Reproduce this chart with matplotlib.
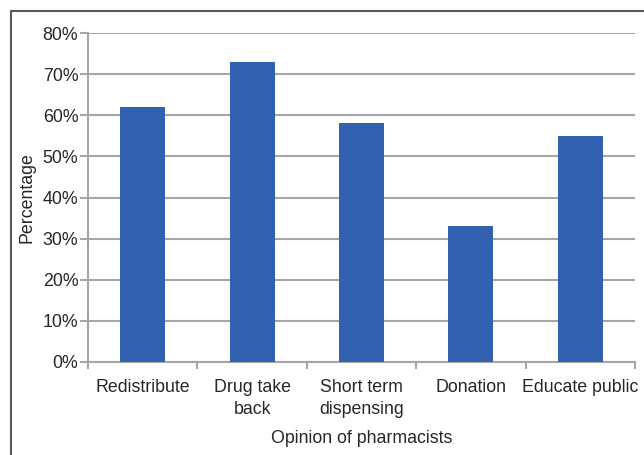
import matplotlib
matplotlib.use("Agg")
import matplotlib.pyplot as plt
from matplotlib.patches import Rectangle
import numpy as np

plt.rcParams["font.family"] = ["Liberation Sans", "DejaVu Sans"]

categories = ["Redistribute", "Drug take\nback", "Short term\ndispensing", "Donation", "Educate public"]
percent = [62, 73, 58, 33, 55]
y_ticks = [0, 10, 20, 30, 40, 50, 60, 70, 80]

BAR_C = "#3262AF"
GRID_C = "#A6A6A6"
TEXT_C = "#262626"
FS = 12.8

fig = plt.figure(figsize=(6.44, 4.55), dpi=100)
fig.patch.set_facecolor("white")

# outer chart frame (cropped on right and bottom in the reference)
fig.patches.append(Rectangle((11 / 644, -0.2), 1.2, 1 - 11 / 455 + 0.2,
                             transform=fig.transFigure, fill=False,
                             edgecolor="#5A5A5A", lw=1.5, zorder=0))

ax = fig.add_axes([88 / 644, 1 - 362 / 455, (635 - 88) / 644, (362 - 33) / 455])
x = np.arange(len(categories))
ax.bar(x, percent, width=0.41, color=BAR_C, zorder=3)

ax.set_xlim(-0.5, len(categories) - 0.5)
ax.set_ylim(0, 80)
ax.set_yticks(y_ticks)
ax.set_yticklabels([f"{v}%" for v in y_ticks], fontsize=FS, color=TEXT_C)
ax.yaxis.grid(True, color=GRID_C, lw=1.5, zorder=0)
ax.set_axisbelow(True)

ax.set_xticks(x)
ax.set_xticklabels(categories, fontsize=FS, color=TEXT_C, linespacing=1.4)
ax.set_xticks(np.arange(-0.5, len(categories)), minor=True)
ax.tick_params(axis="x", which="major", length=0, pad=12)
ax.tick_params(axis="x", which="minor", length=5, width=1.5, color=GRID_C)
ax.tick_params(axis="y", length=6, width=1.5, color=GRID_C, pad=1)

for s in ("top", "right"):
    ax.spines[s].set_visible(False)
for s in ("left", "bottom"):
    ax.spines[s].set_color(GRID_C)
    ax.spines[s].set_linewidth(1.5)

ax.set_ylabel("Percentage", fontsize=FS, color=TEXT_C, labelpad=5)
ax.set_xlabel("Opinion of pharmacists", fontsize=FS, color=TEXT_C, labelpad=9)

fig.savefig("out.png", dpi=100, facecolor="white")
